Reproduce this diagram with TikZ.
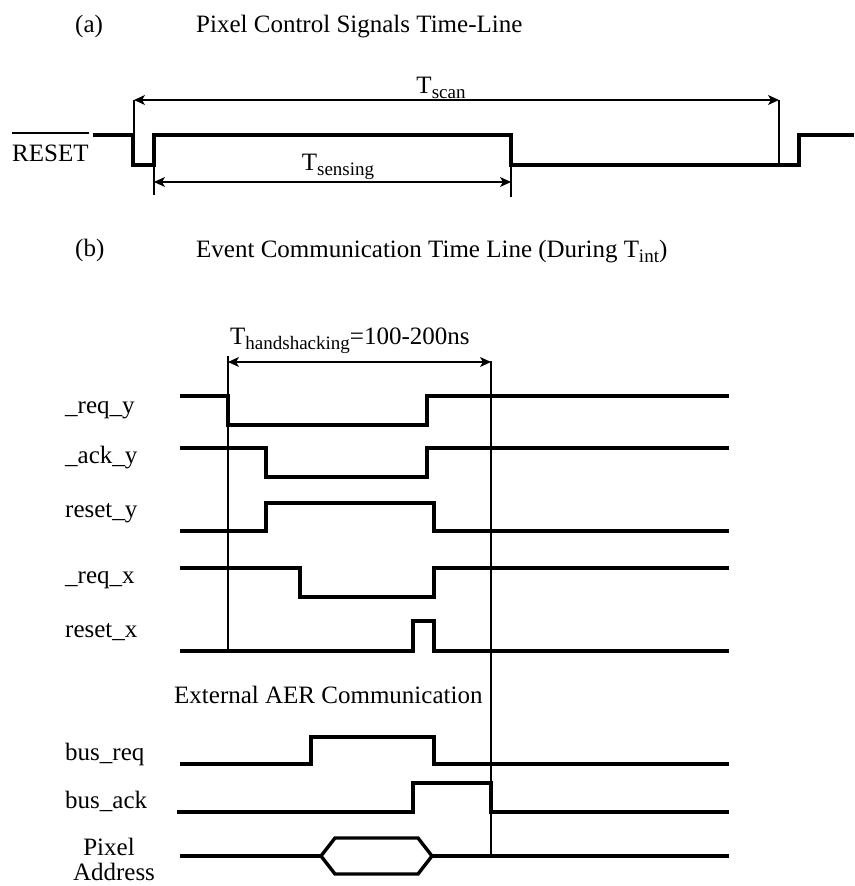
\documentclass[tikz,border=0pt]{standalone}
\usepackage{fontspec}
\setmainfont{Liberation Serif}
\usetikzlibrary{arrows.meta}
\newcommand{\lowsub}[1]{\raisebox{-5pt}{\fontsize{19}{19}\selectfont #1}}

\begin{document}
\begin{tikzpicture}[x=1pt,y=-1pt,
  font=\fontsize{25}{30}\selectfont,
  sig/.style={line width=3.4pt},
  dim/.style={line width=1.1pt},
  span/.style={dim,{Stealth[length=11pt,width=10pt,inset=3pt]}-{Stealth[length=11pt,width=10pt,inset=3pt]}},
  lbl/.style={anchor=base west,inner sep=0pt},
  clbl/.style={anchor=base,inner sep=0pt}]
\useasboundingbox (0,0) rectangle (854,886);
% (a) pixel control signals
\node[lbl] (tagA) at (75,32) {(a)};
\node[lbl] (titleA) at (196,32) {Pixel Control Signals Time-Line};
\node[lbl] (rst) at (12,161) {RESET};
\draw[line width=2pt] ([yshift=28pt]rst.base west) -- ([yshift=28pt]rst.base east);
\draw[sig] (93,135) -- (133,135) -- (133,165) -- (154,165) -- (154,135) -- (511,135) -- (511,165) -- (799,165) -- (799,135) -- (854,135);
% T_scan and T_sensing spans
\coordinate (scanL) at (134,100); \coordinate (scanR) at (779,100);
\draw[dim] (scanL) -- (134,135);
\draw[dim] (scanR) -- (779,165);
\draw[span] (scanL) -- (scanR);
\node[clbl] (tscan) at (441,93) {T\lowsub{scan}};
\coordinate (sensL) at (154,182); \coordinate (sensR) at (511,182);
\draw[dim] (154,165) -- (154,195);
\draw[dim] (511,165) -- (511,197);
\draw[span] (sensL) -- (sensR);
\node[clbl] (tsens) at (338,170) {T\lowsub{sensing}};
% (b) event communication
\node[lbl] (tagB) at (75,256) {(b)};
\node[lbl] (titleB) at (196,257) {Event Communication Time Line (During T\lowsub{int})};
\node[lbl] (thand) at (230,344) {T\lowsub{handshacking}=100-200ns};
\coordinate (hsL) at (228,362); \coordinate (hsR) at (491,362);
\draw[dim] (228,356) -- (228,651);
\draw[dim] (491,361) -- (491,856);
\draw[span] (hsL) -- (hsR);
\foreach \nm/\txt/\yy in {reqy/\_req\_y/413, acky/\_ack\_y/463, rsty/reset\_y/517, reqx/\_req\_x/583, rstx/reset\_x/637, busreq/bus\_req/760, busack/bus\_ack/808}
  \node[lbl] (\nm) at (65,\yy) {\txt};
\draw[sig] (180,396) -- (228,396) -- (228,425) -- (427,425) -- (427,396) -- (729,396);
\draw[sig] (180,448) -- (266,448) -- (266,477) -- (427,477) -- (427,448) -- (729,448);
\draw[sig] (180,531) -- (266,531) -- (266,503) -- (434,503) -- (434,531) -- (729,531);
\draw[sig] (180,568) -- (300,568) -- (300,597) -- (434,597) -- (434,568) -- (729,568);
\draw[sig] (180,651) -- (413,651) -- (413,621) -- (434,621) -- (434,651) -- (729,651);
% external AER
\node[lbl] (ext) at (174,703) {External AER Communication};
\draw[sig] (180,764) -- (311,764) -- (311,737) -- (434,737) -- (434,764) -- (729,764);
\draw[sig] (177,812) -- (413,812) -- (413,783) -- (491,783) -- (491,812) -- (729,812);
\node[clbl] (pix) at (109,855) {Pixel};
\node[clbl] (addr) at (114,880) {Address};
\draw[sig] (180,856) -- (321,856) (432,856) -- (729,856);
\draw[sig] (321,856) -- (335,838) -- (418,838) -- (432,856) -- (418,874) -- (335,874) -- cycle;
\end{tikzpicture}
\end{document}
